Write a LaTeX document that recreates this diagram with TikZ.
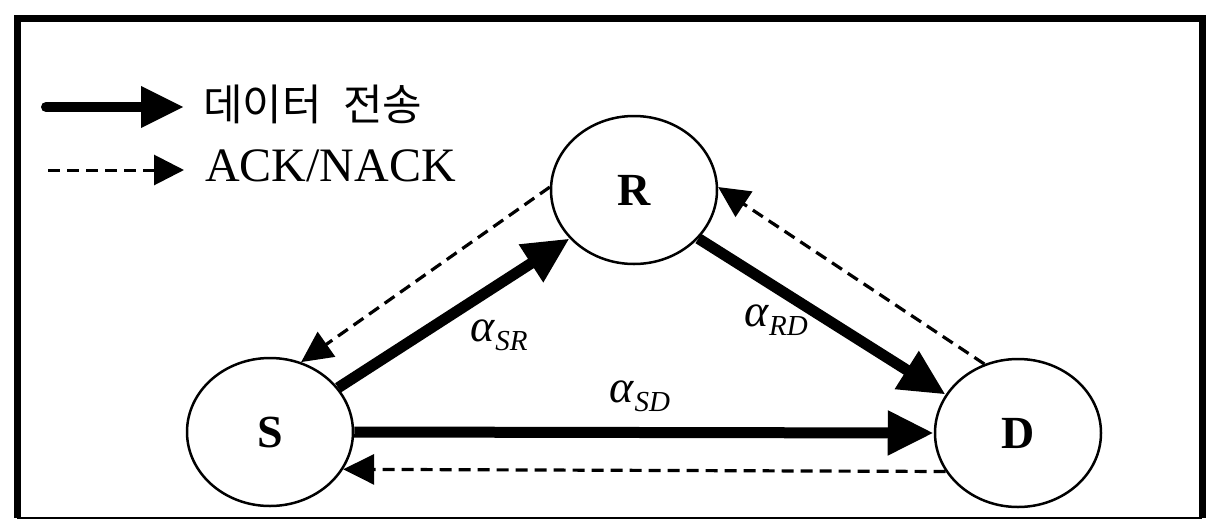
\documentclass[tikz,border=0pt]{standalone}
\usepackage{fontspec}
\setmainfont{Liberation Serif}
\newfontfamily\kr[WordSpace=2.2]{Noto Sans CJK KR}
\usetikzlibrary{arrows.meta,shapes.geometric}
\newcommand{\gainlabel}[1]{\textit{α}\raisebox{-9pt}{\fontsize{29}{30}\selectfont\textit{#1}}}
\tikzset{
  station/.style={ellipse, draw, line width=2.5pt, minimum width=166pt, minimum height=148pt, inner sep=0pt,
    font=\fontsize{46}{50}\selectfont\bfseries},
  datalink/.style={line width=11pt, -{Triangle[length=46pt,width=42pt]}},
  acklink/.style={line width=3.2pt, dash pattern=on 12pt off 7pt, -{Triangle[length=31pt,width=30pt]}},
  gain/.style={font=\fontsize{46}{50}\selectfont, inner sep=0pt},
  legendtext/.style={inner sep=0pt},
}
\begin{document}
\begin{tikzpicture}[x=1pt,y=-1pt]
\useasboundingbox (0,0) rectangle (1208,520);
% frame
\draw[line width=7pt] (17,518) -- (17,18) -- (1202,18) -- (1202,518);
\draw[line width=2pt] (17,518) -- (1202,518);
% stations
\node[station] (R) at (634,190) {R};
\node[station] (S) at (270,432) {S};
\node[station] (D) at (1018,433) {D};
% data links
\draw[datalink] (S.33) -- (R.217);
\draw[datalink] (R.-37) -- (D.152);
\draw[datalink] (S.0) -- (D.180);
% ACK/NACK links
\draw[acklink] (R.178) -- (S.66);
\draw[acklink] (D.116) -- (R.2);
\draw[acklink] (D.208) -- (S.-27);
% gains
\node[gain] (aSR) at (499,335) {\gainlabel{SR}};
\node[gain] (aRD) at (776,320) {\gainlabel{RD}};
\node[gain] (aSD) at (640,396) {\gainlabel{SD}};
% legend
\coordinate (l1a) at (46,107);
\coordinate (l1b) at (184,107);
\coordinate (l2a) at (48,170);
\coordinate (l2b) at (184,170);
\draw[line width=10pt, line cap=round, -{Triangle[length=43pt,width=39pt]}] (l1a) -- (l1b);
\draw[line width=3pt, dash pattern=on 12pt off 7pt, -{Triangle[length=30pt,width=30pt]}] (l2a) -- (l2b);
\node[legendtext, anchor=west, font=\kr\fontsize{43}{46}\selectfont] (leg1) at (203,104) {데이터 전송};
\node[legendtext, anchor=base west, font=\fontsize{48}{52}\selectfont] (leg2) at (205,181) {ACK/NACK};
\end{tikzpicture}
\end{document}
